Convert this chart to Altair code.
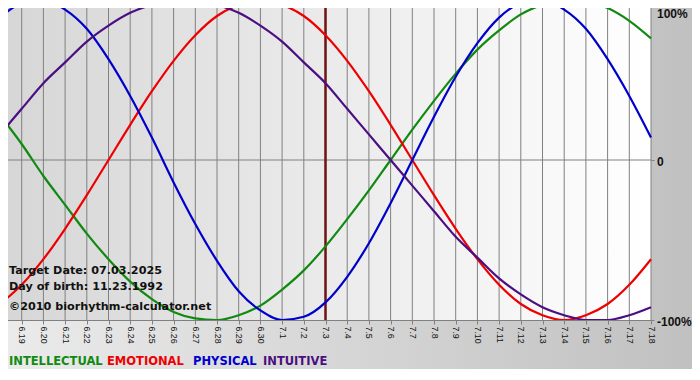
import altair as alt
import pandas as pd

# ---- data ----
days = ["6.18", "6.19", "6.20", "6.21", "6.22", "6.23", "6.24", "6.25", "6.26", "6.27",
        "6.28", "6.29", "6.30", "7.1", "7.2", "7.3", "7.4", "7.5", "7.6", "7.7", "7.8",
        "7.9", "7.10", "7.11", "7.12", "7.13", "7.14", "7.15", "7.16", "7.17", "7.18"]
intellectual = [28, 10, -10, -28, -46, -62, -76, -87, -95, -99, -100, -97, -91, -81, -69, -54,
                -37, -19, 0, 19, 37, 54, 69, 81, 91, 97, 100, 99, 95, 87, 76]
emotional = [-90, -78, -62, -43, -22, 0, 22, 43, 62, 78, 90, 97, 100, 97, 90, 78,
             62, 43, 22, 0, -22, -43, -62, -78, -90, -97, -100, -97, -90, -78, -62]
physical = [89, 98, 100, 94, 82, 63, 40, 14, -14, -40, -63, -82, -94, -100, -98, -89,
            -73, -52, -27, 0, 27, 52, 73, 89, 98, 100, 94, 82, 63, 40, 14]
intuitive = [16, 32, 48, 61, 74, 84, 92, 97, 100, 100, 97, 92, 84, 74, 61, 48,
             32, 16, 0, -16, -32, -48, -61, -74, -84, -92, -97, -100, -100, -97, -92]
series_names = ["INTELLECTUAL", "EMOTIONAL", "PHYSICAL", "INTUITIVE"]
series_colors = ["#118a11", "#ee0000", "#0000cc", "#4b0f82"]
target_day = "7.3"
target_date = "07.03.2025"
birth_date = "11.23.1992"
credit = "\u00a92010 biorhythm-calculator.net"
y_ticks = [100, 0, -100]
y_tick_labels = ["100%", "0", "-100%"]

# ---- tables ----
rows = []
for name, vals in zip(series_names, [intellectual, emotional, physical, intuitive]):
    for d, v in zip(days, vals):
        rows.append({"day": d, "value": v, "series": name})
lines_df = pd.DataFrame(rows)
days_df = pd.DataFrame({"day": days})
one = pd.DataFrame({"k": [0]})

W, H = 651, 320
xscale = alt.Scale(type="point", domain=days, padding=0)
yscale = alt.Scale(domain=[-100, 100])
FONT = "DejaVu Sans"

x_axis = alt.Axis(
    orient="bottom", title=None, grid=False, labelAngle=90, labelAlign="left",
    labelBaseline="middle", labelFont="Liberation Sans", labelFontSize=8.8,
    labelColor="#111111", labelPadding=2, labelOverlap=False, tickSize=4,
    tickColor="#808080", domainColor="#808080", domainWidth=1, zindex=1)
y_axis = alt.Axis(
    orient="right", title=None, grid=False, values=y_ticks, labels=False,
    tickSize=3, tickColor="#808080", domain=False, zindex=1)

canvas_bg = alt.Chart(one).mark_rect(
    fill=alt.LinearGradient(gradient="linear", x1=0, x2=1, y1=0, y2=0,
                            stops=[alt.GradientStop(color="#ebebeb", offset=0),
                                   alt.GradientStop(color="#c0c0c0", offset=1)])
).encode(x=alt.value(0), x2=alt.value(700), y=alt.value(0), y2=alt.value(369))

plot_bg = alt.Chart(one).mark_rect(
    fill=alt.LinearGradient(gradient="linear", x1=0, x2=1, y1=0, y2=0,
                            stops=[alt.GradientStop(color="#d6d6d6", offset=0),
                                   alt.GradientStop(color="#ffffff", offset=1)])
).encode(x=alt.value(0), x2=alt.value(W), y=alt.value(0), y2=alt.value(H))

grid = alt.Chart(days_df).mark_rule(color="#808080", strokeWidth=1).encode(
    x=alt.X("day:O", scale=xscale, axis=x_axis)
)

zero_line = alt.Chart(one).mark_rule(color="#808080", strokeWidth=1).encode(
    y=alt.Y("k:Q", scale=yscale, axis=y_axis)
)

target = alt.Chart(pd.DataFrame({"day": [target_day]})).mark_rule(
    color="#6e1212", strokeWidth=2.5
).encode(x=alt.X("day:O", scale=xscale, axis=x_axis))

curves = alt.Chart(lines_df).mark_line(strokeWidth=2.2, interpolate="monotone").encode(
    x=alt.X("day:O", scale=xscale, axis=x_axis),
    y=alt.Y("value:Q", scale=yscale, axis=y_axis),
    color=alt.Color("series:N", scale=alt.Scale(domain=series_names, range=series_colors),
                    legend=None),
    detail="series:N",
)

ylab_layers = []
for v, lab in zip(y_ticks, y_tick_labels):
    ylab_layers.append(
        alt.Chart(pd.DataFrame({"v": [v]})).mark_text(
            align="left", baseline=("top" if v == 100 else "middle"), dx=6,
            dy=(9 if v == 100 else 2),
            font="Liberation Sans", fontWeight="bold", fontSize=12, color="#111111"
        ).encode(x=alt.value(W), y=alt.Y("v:Q", scale=yscale, axis=y_axis),
                 text=alt.value(lab))
    )

info_texts = []
for txt, yy in [("Target Date: " + target_date, 271), ("Day of birth: " + birth_date, 287),
                (credit, 307)]:
    info_texts.append(
        alt.Chart(one).mark_text(align="left", baseline="middle", font=FONT,
                                 fontWeight="bold", fontSize=11.2, color="#111111")
        .encode(x=alt.value(9), y=alt.value(yy), text=alt.value(txt))
    )

legend_texts = []
for name, col, xx in zip(series_names, series_colors, [9, 107, 193, 263]):
    legend_texts.append(
        alt.Chart(one).mark_text(align="left", baseline="middle", font=FONT,
                                 fontWeight="bold", fontSize=11.5, color=col)
        .encode(x=alt.value(xx), y=alt.value(362), text=alt.value(name))
    )

chart = alt.layer(
    canvas_bg, plot_bg, grid, zero_line, target, curves,
    *ylab_layers, *info_texts, *legend_texts
).properties(
    width=W, height=H, autosize="none",
    padding={"left": -8, "top": -8, "right": 41, "bottom": 52},
    background="#ffffff",
).configure_view(stroke=None)

chart.save("out.html", embed_options={"renderer": "svg", "actions": False})
